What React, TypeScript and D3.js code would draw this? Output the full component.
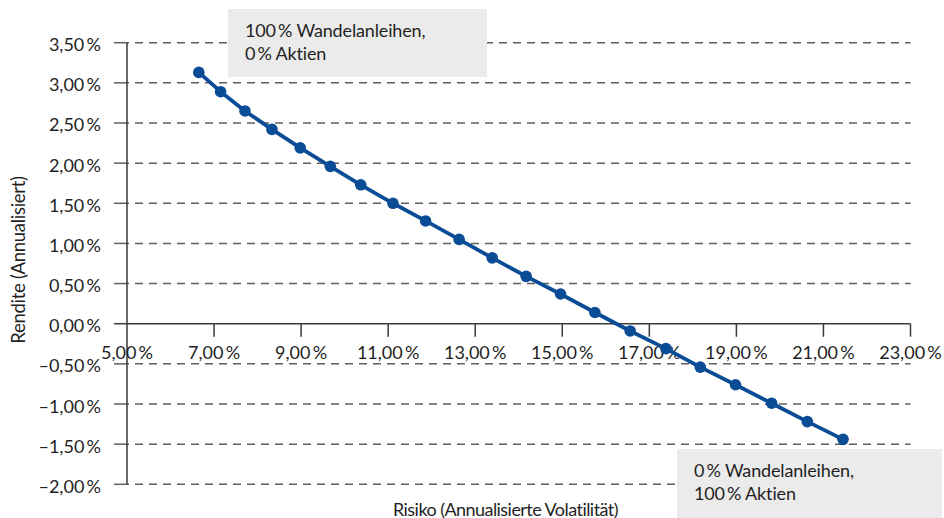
import React from "react";
import * as d3 from "d3";

const risk = [6.65, 7.15, 7.71, 8.33, 8.98, 9.67, 10.37, 11.11, 11.86, 12.63, 13.39, 14.17, 14.96, 15.75, 16.56, 17.38, 18.17, 18.98, 19.81, 20.63, 21.45];
const returns = [3.13, 2.89, 2.65, 2.42, 2.19, 1.96, 1.73, 1.5, 1.28, 1.05, 0.82, 0.59, 0.37, 0.14, -0.09, -0.31, -0.54, -0.76, -0.99, -1.22, -1.44];
const xTicks = [5, 7, 9, 11, 13, 15, 17, 19, 21, 23];
const yTicks = [3.5, 3, 2.5, 2, 1.5, 1, 0.5, 0, -0.5, -1, -1.5, -2];
const xTitle = "Risiko (Annualisierte Volatilität)";
const yTitle = "Rendite (Annualisiert)";
const noteTop = ["100\u2009% Wandelanleihen,", "0\u2009% Aktien"];
const noteBottom = ["0\u2009% Wandelanleihen,", "100\u2009% Aktien"];

const W = 944;
const H = 518;
const FONT = "Lato, 'DejaVu Sans Condensed', sans-serif";
const TEXT = "#1f1f1f";
const BLUE = "#0b4c97";
const GRID = "#5f5f5f";

const locale = d3.formatLocale({ decimal: ",", thousands: ".", grouping: [3], currency: ["", " €"], minus: "\u2013" });
const fmt = (v: number) => locale.format(".2f")(v) + "\u2009%";

export default function App() {
  const x = d3.scaleLinear().domain([5, 23]).range([127, 910.5]);
  const y = d3.scaleLinear().domain([-2, 3.5]).range([484.3, 42.7]);
  const pts = risk.map((r, i) => [r, returns[i]] as [number, number]);
  const line = d3.line<[number, number]>().x((d) => x(d[0])).y((d) => y(d[1]));
  const x0 = x(5);
  const x1 = x(23);

  return (
    <div style={{ position: "absolute", left: 0, top: 0 }}>
      <svg width={W} height={H} style={{ display: "block", background: "#fff" }} fontFamily={FONT}>
        {/* grid lines */}
        {yTicks.map((t) => (
          <g key={"g" + t}>
            <line x1={x0 - 13} x2={x0} y1={y(t)} y2={y(t)} stroke={t === 0 ? "#3a3a3a" : GRID} strokeWidth={1.5} />
            {t !== 0 && (
              <line x1={x0} x2={x1} y1={y(t)} y2={y(t)} stroke={GRID} strokeWidth={1.5} strokeDasharray="8 6" strokeDashoffset={6} />
            )}
          </g>
        ))}
        {/* x axis at 0 */}
        <line x1={x0} x2={x1} y1={y(0)} y2={y(0)} stroke="#3a3a3a" strokeWidth={1.5} />
        {xTicks.slice(1).map((t) => (
          <line key={"xt" + t} x1={x(t)} x2={x(t)} y1={y(0)} y2={y(0) + 13} stroke="#3a3a3a" strokeWidth={1.5} />
        ))}
        {/* y axis */}
        <line x1={x0} x2={x0} y1={y(3.5)} y2={y(-2)} stroke="#3a3a3a" strokeWidth={1.5} />

        {/* y tick labels */}
        {yTicks.map((t) => (
          <text key={"yl" + t} x={101} y={y(t) + 8.5} textAnchor="end" fontSize={18} fill={TEXT}>
            {fmt(t)}
          </text>
        ))}
        {/* x tick labels */}
        {xTicks.map((t) => (
          <text key={"xl" + t} x={x(t)} y={359} textAnchor="middle" fontSize={18} fill={TEXT}>
            {fmt(t)}
          </text>
        ))}

        {/* series */}
        <path d={line(pts) || ""} fill="none" stroke={BLUE} strokeWidth={3.8} strokeLinejoin="round" />
        {pts.map((d, i) => (
          <circle key={"p" + i} cx={x(d[0])} cy={y(d[1])} r={5.8} fill={BLUE} />
        ))}

        {/* annotation boxes */}
        <rect x={228} y={9} width={259} height={68} fill="#ebebeb" />
        {noteTop.map((s, i) => (
          <text key={"nt" + i} x={245} y={36.5 + i * 23.5} fontSize={18} letterSpacing={-0.15} fill={TEXT}>
            {s}
          </text>
        ))}
        <rect x={677} y={449} width={265} height={69} fill="#ebebeb" />
        {noteBottom.map((s, i) => (
          <text key={"nb" + i} x={694} y={476.5 + i * 23.5} fontSize={18} letterSpacing={-0.15} fill={TEXT}>
            {s}
          </text>
        ))}

        {/* axis titles */}
        <text x={393} y={515.5} fontSize={18} letterSpacing={-0.55} fill={TEXT}>
          {xTitle}
        </text>
        <text transform={`translate(24.5,260) rotate(-90)`} textAnchor="middle" fontSize={18.5} letterSpacing={-0.3} fill={TEXT}>
          {yTitle}
        </text>
      </svg>
    </div>
  );
}
